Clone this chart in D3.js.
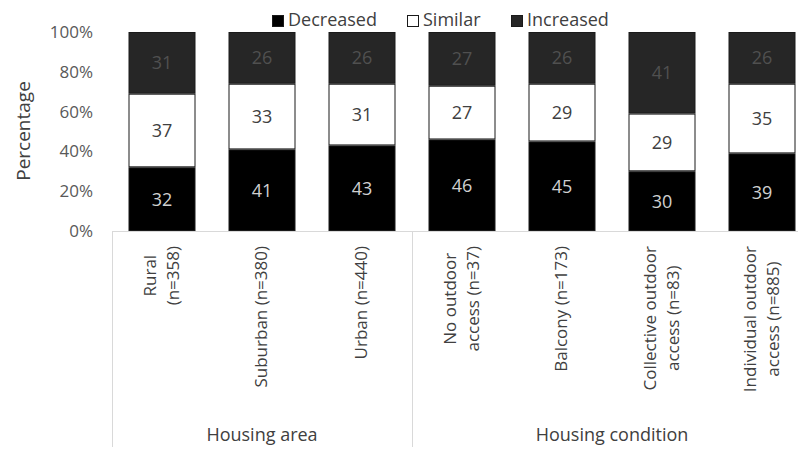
<!DOCTYPE html>
<html>
<head>
<meta charset="utf-8">
<script src="https://cdn.jsdelivr.net/npm/d3@7"></script>
<style>
  body { margin: 0; background: #fff; }
  svg { display: block; }
  text { font-family: "Open Sans", sans-serif; }
</style>
</head>
<body>
<svg id="chart" width="798" height="451"></svg>
<script>
// ---- data ----
const categories = [
  ["Rural", "(n=358)"],
  ["Suburban (n=380)"],
  ["Urban (n=440)"],
  ["No outdoor", "access (n=37)"],
  ["Balcony (n=173)"],
  ["Collective outdoor", "access (n=83)"],
  ["Individual outdoor", "access (n=885)"]
];
const groups = ["Housing area", "Housing condition"];
const groupSizes = [3, 4];
const seriesNames = ["Decreased", "Similar", "Increased"];
const decreased = [32, 41, 43, 46, 45, 30, 39];
const similar   = [37, 33, 31, 27, 29, 29, 35];
const increased = [31, 26, 26, 27, 26, 41, 26];
const yTicks = [0, 20, 40, 60, 80, 100];

// ---- build ----
const svg = d3.select("#chart");
const fills = ["#000000", "#ffffff", "#262626"];
const labelColors = ["#d0d0d0", "#404040", "#505050"];

const x = d3.scaleBand().domain(d3.range(categories.length))
  .range([112, 812]).paddingInner(0.33).paddingOuter(0.165);
const y = d3.scaleLinear().domain([0, 100]).range([231, 32]);

const rows = categories.map((c, i) => ({ i, Decreased: decreased[i], Similar: similar[i], Increased: increased[i] }));
const stacked = d3.stack().keys(seriesNames)(rows);

// baseline
svg.append("line").attr("x1", 112).attr("x2", 798).attr("y1", y(0) + 0.5).attr("y2", y(0) + 0.5)
  .attr("stroke", "#d9d9d9").attr("stroke-width", 1);

// group separators
let acc = 0;
const bounds = [x.range()[0]];
groupSizes.forEach(s => { acc += s; bounds.push(x.range()[0] + acc * x.step()); });
bounds.forEach(b => {
  svg.append("line").attr("x1", b + 0.5).attr("x2", b + 0.5).attr("y1", y(0)).attr("y2", 447)
    .attr("stroke", "#d9d9d9").attr("stroke-width", 1);
});

// bars
stacked.forEach((layer, si) => {
  svg.append("g").selectAll("rect").data(layer).join("rect")
    .attr("x", (d, i) => x(i) + 0.5)
    .attr("width", x.bandwidth() - 1)
    .attr("y", d => y(d[1]) + 0.5)
    .attr("height", d => y(d[0]) - y(d[1]) - 1)
    .attr("fill", fills[si])
    .attr("stroke", "#1a1a1a").attr("stroke-width", 1);
  svg.append("g").selectAll("text").data(layer).join("text")
    .attr("x", (d, i) => x(i) + x.bandwidth() / 2)
    .attr("y", d => (y(d[0]) + y(d[1])) / 2)
    .attr("dy", "0.36em")
    .attr("text-anchor", "middle")
    .attr("font-size", 18)
    .attr("fill", labelColors[si])
    .text(d => d[1] - d[0]);
});

// y axis labels
const yAxis = d3.axisLeft(y).tickValues(yTicks).tickFormat(d => d + "%").tickSize(0).tickPadding(0);
const ya = svg.append("g").attr("transform", "translate(93,0)").call(yAxis);
ya.select(".domain").remove();
ya.selectAll("text").attr("font-size", 17).attr("fill", "#595959")
  .style("font-family", "'Open Sans', sans-serif");

svg.append("text").attr("transform", "translate(30,131) rotate(-90)")
  .attr("text-anchor", "middle").attr("font-size", 19).attr("fill", "#404040")
  .text("Percentage");

// category labels (rotated)
categories.forEach((lines, i) => {
  const cx = x(i) + x.bandwidth() / 2;
  const lh = 23;
  const g = svg.append("g");
  const texts = lines.map((ln, k) => g.append("text")
    .attr("text-anchor", "middle").attr("font-size", 17).attr("fill", "#404040")
    .text(ln));
  const maxLen = d3.max(texts, t => t.node().getComputedTextLength());
  const cy = 246 + maxLen / 2;
  const n = lines.length;
  texts.forEach((t, k) => {
    const off = (k - (n - 1) / 2) * lh;
    t.attr("transform", `translate(${cx + off + 5},${cy}) rotate(-90)`);
  });
});

// group labels
groups.forEach((gname, gi) => {
  const cx = (bounds[gi] + bounds[gi + 1]) / 2;
  svg.append("text").attr("x", cx).attr("y", 441).attr("text-anchor", "middle")
    .attr("font-size", 18).attr("fill", "#404040").text(gname);
});

// legend
const legendX = [272, 407, 511];
seriesNames.forEach((s, si) => {
  const g = svg.append("g").attr("transform", `translate(${legendX[si]},0)`);
  g.append("rect").attr("x", 0.5).attr("y", 15.5).attr("width", 11).attr("height", 11)
    .attr("fill", fills[si]).attr("stroke", "#1a1a1a");
  g.append("text").attr("x", 16).attr("y", 26).attr("font-size", 18).attr("fill", "#404040").text(s);
});
</script>
</body>
</html>
